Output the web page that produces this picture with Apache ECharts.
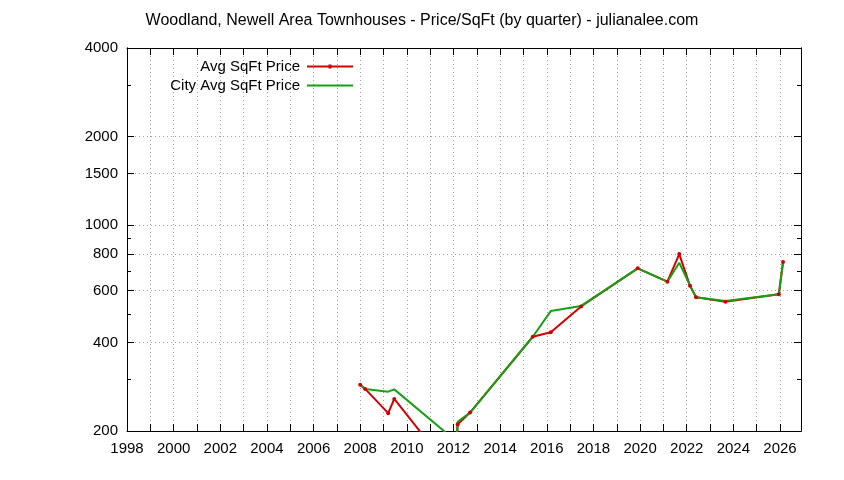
<!DOCTYPE html>
<html>
<head>
<meta charset="utf-8">
<script src="https://cdn.jsdelivr.net/npm/echarts@6/dist/echarts.min.js"></script>
<style>
  html, body { margin: 0; padding: 0; background: #fff; }
  #chart { width: 844px; height: 480px; }
</style>
</head>
<body>
<div id="chart"></div>
<script>
// values (x = decimal year of the quarter)
var avgYears = [2008.0, 2008.21, 2009.2, 2009.46, 2012.1, 2012.18, 2012.71, 2015.4, 2016.17, 2017.47, 2019.9, 2021.17, 2021.68, 2022.14, 2022.4, 2023.66, 2025.95, 2026.13];
var avgPrice = [287, 278, 230, 257, 140, 211, 231, 418, 433, 530, 714, 643, 798, 623, 569, 550, 583, 750];

var cityYears = [2008.0, 2008.21, 2009.2, 2009.46, 2012.1, 2012.18, 2012.71, 2015.4, 2016.17, 2017.47, 2019.9, 2021.17, 2021.68, 2022.14, 2022.4, 2023.66, 2025.95, 2026.13];
var cityPrice = [287, 278, 272, 277, 185, 215, 231, 418, 511, 532, 714, 643, 746, 625, 569, 553, 583, 750];

var yLabels = [200, 400, 600, 800, 1000, 1500, 2000, 4000];
var yMinor = [300, 500, 700, 900, 3000];
var xStart = 1998;
var xEnd = 2026.9;

var FONT = 'Liberation Sans';
var RED = '#d40000';
var GREEN = '#15a015';

function lg(v) { return Math.log(v) / Math.LN10; }

function pairs(xs, ys) {
    var out = [];
    for (var i = 0; i < xs.length; i++) out.push([xs[i], lg(ys[i])]);
    return out;
}

var allYears = [], evenYears = [];
for (var y = xStart; y <= 2026; y++) {
    allYears.push(y);
    if (y % 2 === 0) evenYears.push(y);
}

var majorLg = yLabels.map(lg);
var minorLg = yMinor.map(lg);

function yAx(pos, ticks, len, labels) {
    return {
        type: 'value', position: pos, offset: 0,
        min: lg(200), max: lg(4000),
        axisLine: { show: true, lineStyle: { color: '#000', width: 1 } },
        axisTick: { show: true, inside: true, length: len, customValues: ticks, lineStyle: { color: '#000' } },
        axisLabel: labels ? {
            show: true, customValues: majorLg, margin: 9,
            color: '#000', fontFamily: FONT, fontSize: 15,
            formatter: function (v) { return String(Math.round(Math.pow(10, v))); }
        } : { show: false },
        splitLine: labels ? { show: true, lineStyle: { color: '#a0a0a0', type: [1, 3], width: 1 } } : { show: false }
    };
}

// legend keys: a 46x6 box, line through the middle, red one with a dot
var lineIcon = 'path://M0,2L46,2L46,4L0,4Z';
var dotIcon = 'path://M0,2L46,2L46,4L0,4Z M21.5,1L24.5,1L24.5,5L21.5,5Z';

function legendFor(name, icon, top) {
    return {
        data: [{ name: name, icon: icon }],
        right: 491, top: top, padding: 0, align: 'right',
        itemWidth: 46, itemHeight: 6, itemGap: 0,
        textStyle: { fontFamily: FONT, fontSize: 15, color: '#000', padding: [0, 2, 0, 0] }
    };
}

var chart = echarts.init(document.getElementById('chart'), null, { renderer: 'canvas' });

chart.setOption({
    animation: false,
    backgroundColor: '#fff',
    title: {
        text: 'Woodland, Newell Area Townhouses - Price/SqFt (by quarter) - julianalee.com',
        left: 'center', top: 8,
        textStyle: { fontFamily: FONT, fontSize: 16, fontWeight: 'normal', color: '#000' }
    },
    legend: [
        legendFor('Avg SqFt Price', dotIcon, 59),
        legendFor('City Avg SqFt Price', lineIcon, 78)
    ],
    grid: { left: 127, right: 43, top: 48, bottom: 49, containLabel: false },
    xAxis: [
        {
            type: 'value', position: 'bottom', min: xStart, max: xEnd,
            axisLine: { lineStyle: { color: '#000' } },
            axisTick: { inside: true, length: 7, customValues: allYears, lineStyle: { color: '#000' } },
            axisLabel: { customValues: evenYears, margin: 10, color: '#000', fontFamily: FONT, fontSize: 15,
                         formatter: function (v) { return String(v); } },
            splitLine: { show: true, lineStyle: { color: '#a0a0a0', type: [1, 3], width: 1 } }
        },
        {
            type: 'value', position: 'top', min: xStart, max: xEnd,
            axisLine: { lineStyle: { color: '#000' } },
            axisTick: { inside: true, length: 7, customValues: allYears, lineStyle: { color: '#000' } },
            axisLabel: { show: false },
            splitLine: { show: false }
        }
    ],
    yAxis: [
        yAx('left', majorLg, 7, true),
        yAx('left', minorLg, 4, false),
        yAx('right', majorLg, 7, false),
        yAx('right', minorLg, 4, false)
    ],
    series: [
        {
            name: 'Avg SqFt Price', type: 'line', xAxisIndex: 0, yAxisIndex: 0,
            data: pairs(avgYears, avgPrice),
            symbol: 'circle', symbolSize: 4, showSymbol: true, clip: true,
            itemStyle: { color: RED },
            lineStyle: { color: RED, width: 2 }
        },
        {
            name: 'City Avg SqFt Price', type: 'line', xAxisIndex: 0, yAxisIndex: 0,
            data: pairs(cityYears, cityPrice),
            symbol: 'none', clip: true,
            itemStyle: { color: GREEN },
            lineStyle: { color: GREEN, width: 2 }
        }
    ]
});
</script>
</body>
</html>
